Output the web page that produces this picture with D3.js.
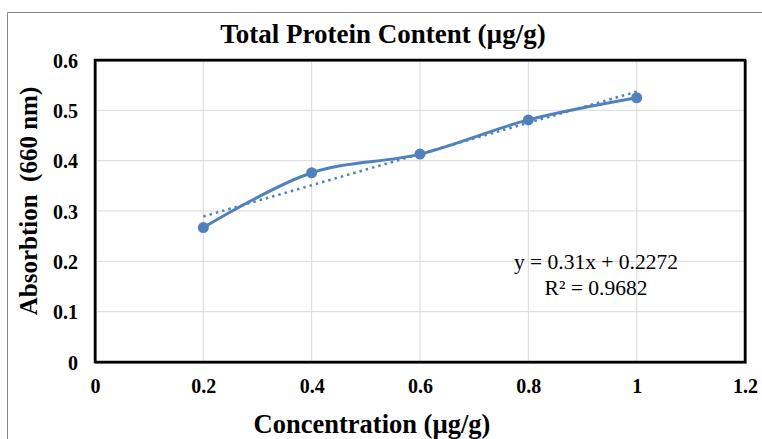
<!DOCTYPE html>
<html><head><meta charset="utf-8">
<script src="https://cdn.jsdelivr.net/npm/d3@7"></script>
<style>body{margin:0;background:#fff}svg{display:block}</style>
</head><body>
<script>
const xValues = [0.2, 0.4, 0.6, 0.8, 1.0];
const yValues = [0.267, 0.376, 0.413, 0.481, 0.525];
const xTicks = [0, 0.2, 0.4, 0.6, 0.8, 1, 1.2];
const yTicks = [0, 0.1, 0.2, 0.3, 0.4, 0.5, 0.6];
const trendSlope = 0.31, trendIntercept = 0.2272;
const titleText = "Total Protein Content (µg/g)";
const xTitle = "Concentration (µg/g)";
const yTitle = "Absorbtion  (660 nm)";
const eqLines = ["y = 0.31x + 0.2272", "R² = 0.9682"];

const W = 762, H = 439;
const svg = d3.select("body").append("svg").attr("width", W).attr("height", H);
const font = "'Liberation Serif','Times New Roman',serif";
const blue = "#4f81bd";

// outer frame
svg.append("path").attr("d", `M7.5,${H} V12.5 H${W}`).attr("fill","none").attr("stroke","#888").attr("stroke-width",1);

const m = {l:95, r:745, t:60, b:362};
const x = d3.scaleLinear().domain([0,1.2]).range([m.l, m.r]);
const y = d3.scaleLinear().domain([0,0.6]).range([m.b, m.t]);

// grid
svg.append("g").selectAll("line").data(xTicks.slice(1,-1)).join("line")
  .attr("x1",d=>x(d)).attr("x2",d=>x(d)).attr("y1",m.t).attr("y2",m.b)
  .attr("stroke","#d9d9d9").attr("stroke-width",1);
svg.append("g").selectAll("line").data(yTicks.slice(1,-1)).join("line")
  .attr("y1",d=>y(d)).attr("y2",d=>y(d)).attr("x1",m.l).attr("x2",m.r)
  .attr("stroke","#d9d9d9").attr("stroke-width",1);

// plot frame with shadow
svg.append("rect").attr("x",m.l+1).attr("y",m.t+1).attr("width",m.r-m.l).attr("height",m.b-m.t)
  .attr("fill","none").attr("stroke","#8a8a8a").attr("stroke-width",2);
svg.append("rect").attr("x",m.l).attr("y",m.t).attr("width",m.r-m.l).attr("height",m.b-m.t)
  .attr("fill","none").attr("stroke","#000").attr("stroke-width",2.5);

// axes tick labels
const xAxis = d3.axisBottom(x).tickValues(xTicks).tickFormat(d=>String(+d.toFixed(1))).tickSize(0).tickPadding(0);
const gx = svg.append("g").attr("transform",`translate(0,${m.b+31})`).call(xAxis);
gx.select(".domain").remove();
gx.selectAll("text").attr("font-family",font).attr("font-weight","bold").attr("font-size",20).attr("fill","#000").attr("dy","0");

const yAxis = d3.axisLeft(y).tickValues(yTicks).tickFormat(d=>String(+d.toFixed(1))).tickSize(0).tickPadding(0);
const gy = svg.append("g").attr("transform",`translate(${m.l-17},0)`).call(yAxis);
gy.select(".domain").remove();
gy.selectAll("text").attr("font-family",font).attr("font-weight","bold").attr("font-size",20).attr("fill","#000").attr("dy","0.35em");

// trendline
const tx = d3.extent(xValues);
svg.append("line").attr("x1",x(tx[0])).attr("y1",y(trendSlope*tx[0]+trendIntercept))
  .attr("x2",x(tx[1])).attr("y2",y(trendSlope*tx[1]+trendIntercept))
  .attr("stroke",blue).attr("stroke-width",2.5).attr("stroke-dasharray","2.5,4");

// smoothed line
const pts = xValues.map((v,i)=>[v,yValues[i]]);
svg.append("path").datum(pts)
  .attr("d", d3.line().x(d=>x(d[0])).y(d=>y(d[1])).curve(d3.curveCatmullRom.alpha(0.5)))
  .attr("fill","none").attr("stroke",blue).attr("stroke-width",3);
svg.append("g").selectAll("circle").data(pts).join("circle")
  .attr("cx",d=>x(d[0])).attr("cy",d=>y(d[1])).attr("r",5.5).attr("fill",blue);

// titles
svg.append("text").attr("x",383).attr("y",43).attr("text-anchor","middle")
  .attr("font-family",font).attr("font-weight","bold").attr("font-size",27).text(titleText);
svg.append("text").attr("x",372).attr("y",433).attr("text-anchor","middle")
  .attr("font-family",font).attr("font-weight","bold").attr("font-size",26.5).text(xTitle);
svg.append("text").attr("transform",`translate(37,201) rotate(-90)`).attr("text-anchor","middle")
  .attr("font-family",font).attr("font-weight","bold").attr("font-size",25)
  .style("white-space","pre").text(yTitle);

// equation
svg.append("g").selectAll("text").data(eqLines).join("text")
  .attr("x",596).attr("y",(d,i)=>269+i*26).attr("text-anchor","middle")
  .attr("font-family",font).attr("font-size",21.5).attr("fill","#000").text(d=>d);
</script>
</body></html>
